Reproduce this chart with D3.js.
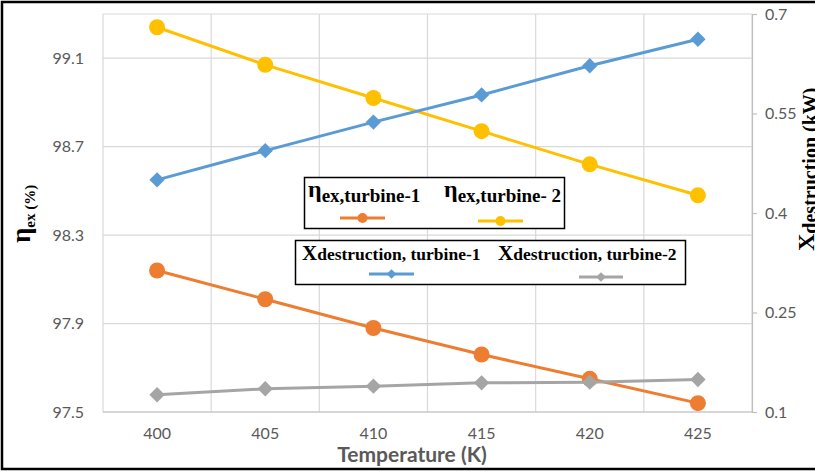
<!DOCTYPE html>
<html>
<head>
<meta charset="utf-8">
<script src="https://cdn.jsdelivr.net/npm/d3@7"></script>
<style>
  html, body { margin: 0; padding: 0; background: #fff; }
  svg { display: block; }
</style>
</head>
<body>
<svg id="chart" width="815" height="472"></svg>
<script>
// Turbine inlet temperature (K)
const temperatures = [400, 405, 410, 415, 420, 425];
// Exergy efficiency (%) – left axis
const etaTurbine1 = [98.14, 98.01, 97.88, 97.76, 97.65, 97.54];
const etaTurbine2 = [99.24, 99.07, 98.92, 98.77, 98.62, 98.48];
// Exergy destruction (kW) – right axis
const xdTurbine1 = [0.450, 0.494, 0.537, 0.578, 0.622, 0.662];
const xdTurbine2 = [0.126, 0.135, 0.139, 0.144, 0.145, 0.149];
// Axis ticks
const leftTicks = [97.5, 97.9, 98.3, 98.7, 99.1];
const rightTicks = [0.1, 0.25, 0.4, 0.55, 0.7];

const svg = d3.select("#chart");
const plot = { left: 103, right: 752, top: 14, bottom: 412 };

const x = d3.scaleBand().domain(temperatures).range([plot.left, plot.right]);
const yL = d3.scaleLinear().domain([97.5, 99.3]).range([plot.bottom, plot.top]);
const yR = d3.scaleLinear().domain([0.1, 0.7]).range([plot.bottom, plot.top]);

const gridColor = "#d9d9d9";
const tickFont = "Lato, 'Open Sans', sans-serif";
const serif = "'Liberation Serif', 'DejaVu Serif', serif";

// Horizontal gridlines (including the top edge of the plot)
svg.append("g").selectAll("line")
  .data(leftTicks.concat([99.3]))
  .join("line")
  .attr("x1", plot.left).attr("x2", plot.right)
  .attr("y1", d => yL(d)).attr("y2", d => yL(d))
  .attr("stroke", gridColor).attr("stroke-width", 1.2);

// Vertical gridlines on category boundaries
const bounds = temperatures.map(t => x(t)).concat([plot.right]);
svg.append("g").selectAll("line")
  .data(bounds)
  .join("line")
  .attr("x1", d => d).attr("x2", d => d)
  .attr("y1", plot.top).attr("y2", plot.bottom)
  .attr("stroke", gridColor).attr("stroke-width", 1.2);

// Bottom axis line
svg.append("line")
  .attr("x1", plot.left).attr("x2", plot.right)
  .attr("y1", plot.bottom).attr("y2", plot.bottom)
  .attr("stroke", "#bfbfbf").attr("stroke-width", 1.2);

// X axis labels
const xAxis = svg.append("g")
  .attr("transform", `translate(0,${plot.bottom})`)
  .call(d3.axisBottom(x).tickSize(0).tickPadding(16));
xAxis.select(".domain").remove();
xAxis.selectAll("text").attr("font-family", tickFont).attr("font-size", 16).attr("fill", "#595959");

// Left axis labels
const leftAxis = svg.append("g")
  .attr("transform", `translate(${plot.left},0)`)
  .call(d3.axisLeft(yL).tickValues(leftTicks).tickFormat(d3.format(".1f")).tickSize(0).tickPadding(19));
leftAxis.select(".domain").remove();
leftAxis.selectAll("text").attr("font-family", tickFont).attr("font-size", 16).attr("fill", "#595959");

// Right axis with outward tick marks
const rightAxis = svg.append("g")
  .attr("transform", `translate(${plot.right},0)`)
  .call(d3.axisRight(yR).tickValues(rightTicks).tickFormat(d => String(d)).tickSize(5).tickSizeOuter(0).tickPadding(8));
rightAxis.select(".domain").attr("stroke", "#bfbfbf").attr("stroke-width", 1.2);
rightAxis.selectAll(".tick line").attr("stroke", "#bfbfbf").attr("stroke-width", 1.2);
rightAxis.selectAll("text").attr("font-family", tickFont).attr("font-size", 16).attr("fill", "#595959");

// Series
const cx = t => x(t) + x.bandwidth() / 2;
const series = [
  { values: etaTurbine1, y: yL, color: "#ED7D31", marker: "circle" },
  { values: etaTurbine2, y: yL, color: "#FFC000", marker: "circle" },
  { values: xdTurbine1, y: yR, color: "#5B9BD5", marker: "diamond" },
  { values: xdTurbine2, y: yR, color: "#A5A5A5", marker: "diamond" }
];

series.forEach(s => {
  const pts = temperatures.map((t, i) => [cx(t), s.y(s.values[i])]);
  svg.append("path")
    .attr("d", d3.line()(pts))
    .attr("fill", "none").attr("stroke", s.color).attr("stroke-width", 3)
    .attr("stroke-linejoin", "round");
  const g = svg.append("g");
  if (s.marker === "circle") {
    g.selectAll("circle").data(pts).join("circle")
      .attr("cx", d => d[0]).attr("cy", d => d[1]).attr("r", 8)
      .attr("fill", s.color);
  } else {
    g.selectAll("path").data(pts).join("path")
      .attr("d", d3.symbol(d3.symbolDiamond2, 150)())
      .attr("transform", d => `translate(${d[0]},${d[1]})`)
      .attr("fill", s.color);
  }
});

// Legend: exergy efficiency
const leg1 = svg.append("g");
leg1.append("rect").attr("x", 304.5).attr("y", 177.5).attr("width", 260).attr("height", 51)
  .attr("fill", "#fff").attr("stroke", "#000").attr("stroke-width", 1.5);
[
  { x: 308, label: "ex,turbine-1", color: "#ED7D31", sx1: 340, sx2: 385, sy: 218 },
  { x: 444, label: "ex,turbine- 2", color: "#FFC000", sx1: 478, sx2: 523, sy: 221 }
].forEach(d => {
  const t = leg1.append("text").attr("x", d.x).attr("y", 197)
    .attr("font-family", serif).attr("font-weight", "bold").attr("fill", "#000");
  t.append("tspan").attr("font-size", 24).text("η");
  t.append("tspan").attr("font-size", 19).attr("dy", 5).text(d.label);
  leg1.append("line").attr("x1", d.sx1).attr("x2", d.sx2).attr("y1", d.sy).attr("y2", d.sy)
    .attr("stroke", d.color).attr("stroke-width", 3);
  leg1.append("circle").attr("cx", (d.sx1 + d.sx2) / 2).attr("cy", d.sy).attr("r", 5).attr("fill", d.color);
});

// Legend: exergy destruction
const leg2 = svg.append("g");
leg2.append("rect").attr("x", 295.5).attr("y", 240.5).attr("width", 390).attr("height", 44)
  .attr("fill", "#fff").attr("stroke", "#000").attr("stroke-width", 1.5);
[
  { x: 302, label: "destruction, turbine-1", color: "#5B9BD5", sx1: 369, sx2: 414, sy: 274 },
  { x: 498, label: "destruction, turbine-2", color: "#A5A5A5", sx1: 579, sx2: 623, sy: 277 }
].forEach(d => {
  const t = leg2.append("text").attr("x", d.x).attr("y", 260)
    .attr("font-family", serif).attr("font-weight", "bold").attr("fill", "#000");
  t.append("tspan").attr("font-size", 21).text("X");
  t.append("tspan").attr("font-size", 17.5).text(d.label);
  leg2.append("line").attr("x1", d.sx1).attr("x2", d.sx2).attr("y1", d.sy).attr("y2", d.sy)
    .attr("stroke", d.color).attr("stroke-width", 3);
  leg2.append("path").attr("d", d3.symbol(d3.symbolDiamond2, 60)())
    .attr("transform", `translate(${(d.sx1 + d.sx2) / 2},${d.sy})`).attr("fill", d.color);
});

// Axis titles
svg.append("text")
  .attr("x", 412).attr("y", 462)
  .attr("text-anchor", "middle")
  .attr("font-family", tickFont).attr("font-weight", "bold").attr("font-size", 21).attr("fill", "#595959")
  .text("Temperature (K)");

const yTitle = svg.append("text")
  .attr("transform", "translate(30,243) rotate(-90)")
  .attr("font-family", serif).attr("font-weight", "bold").attr("fill", "#000");
yTitle.append("tspan").attr("font-size", 27).text("η");
yTitle.append("tspan").attr("font-size", 15).attr("dy", 5).text("ex (%)");

const yTitleR = svg.append("text")
  .attr("transform", "translate(814,251) rotate(-90)")
  .attr("font-family", serif).attr("font-weight", "bold").attr("fill", "#000");
yTitleR.append("tspan").attr("font-size", 24).text("X");
yTitleR.append("tspan").attr("font-size", 20).attr("dy", 3).text("destruction (kW)");

// Outer frame
svg.append("rect").attr("x", 2).attr("y", 2).attr("width", 840).attr("height", 467)
  .attr("fill", "none").attr("stroke", "#000").attr("stroke-width", 2.5);
</script>
</body>
</html>
